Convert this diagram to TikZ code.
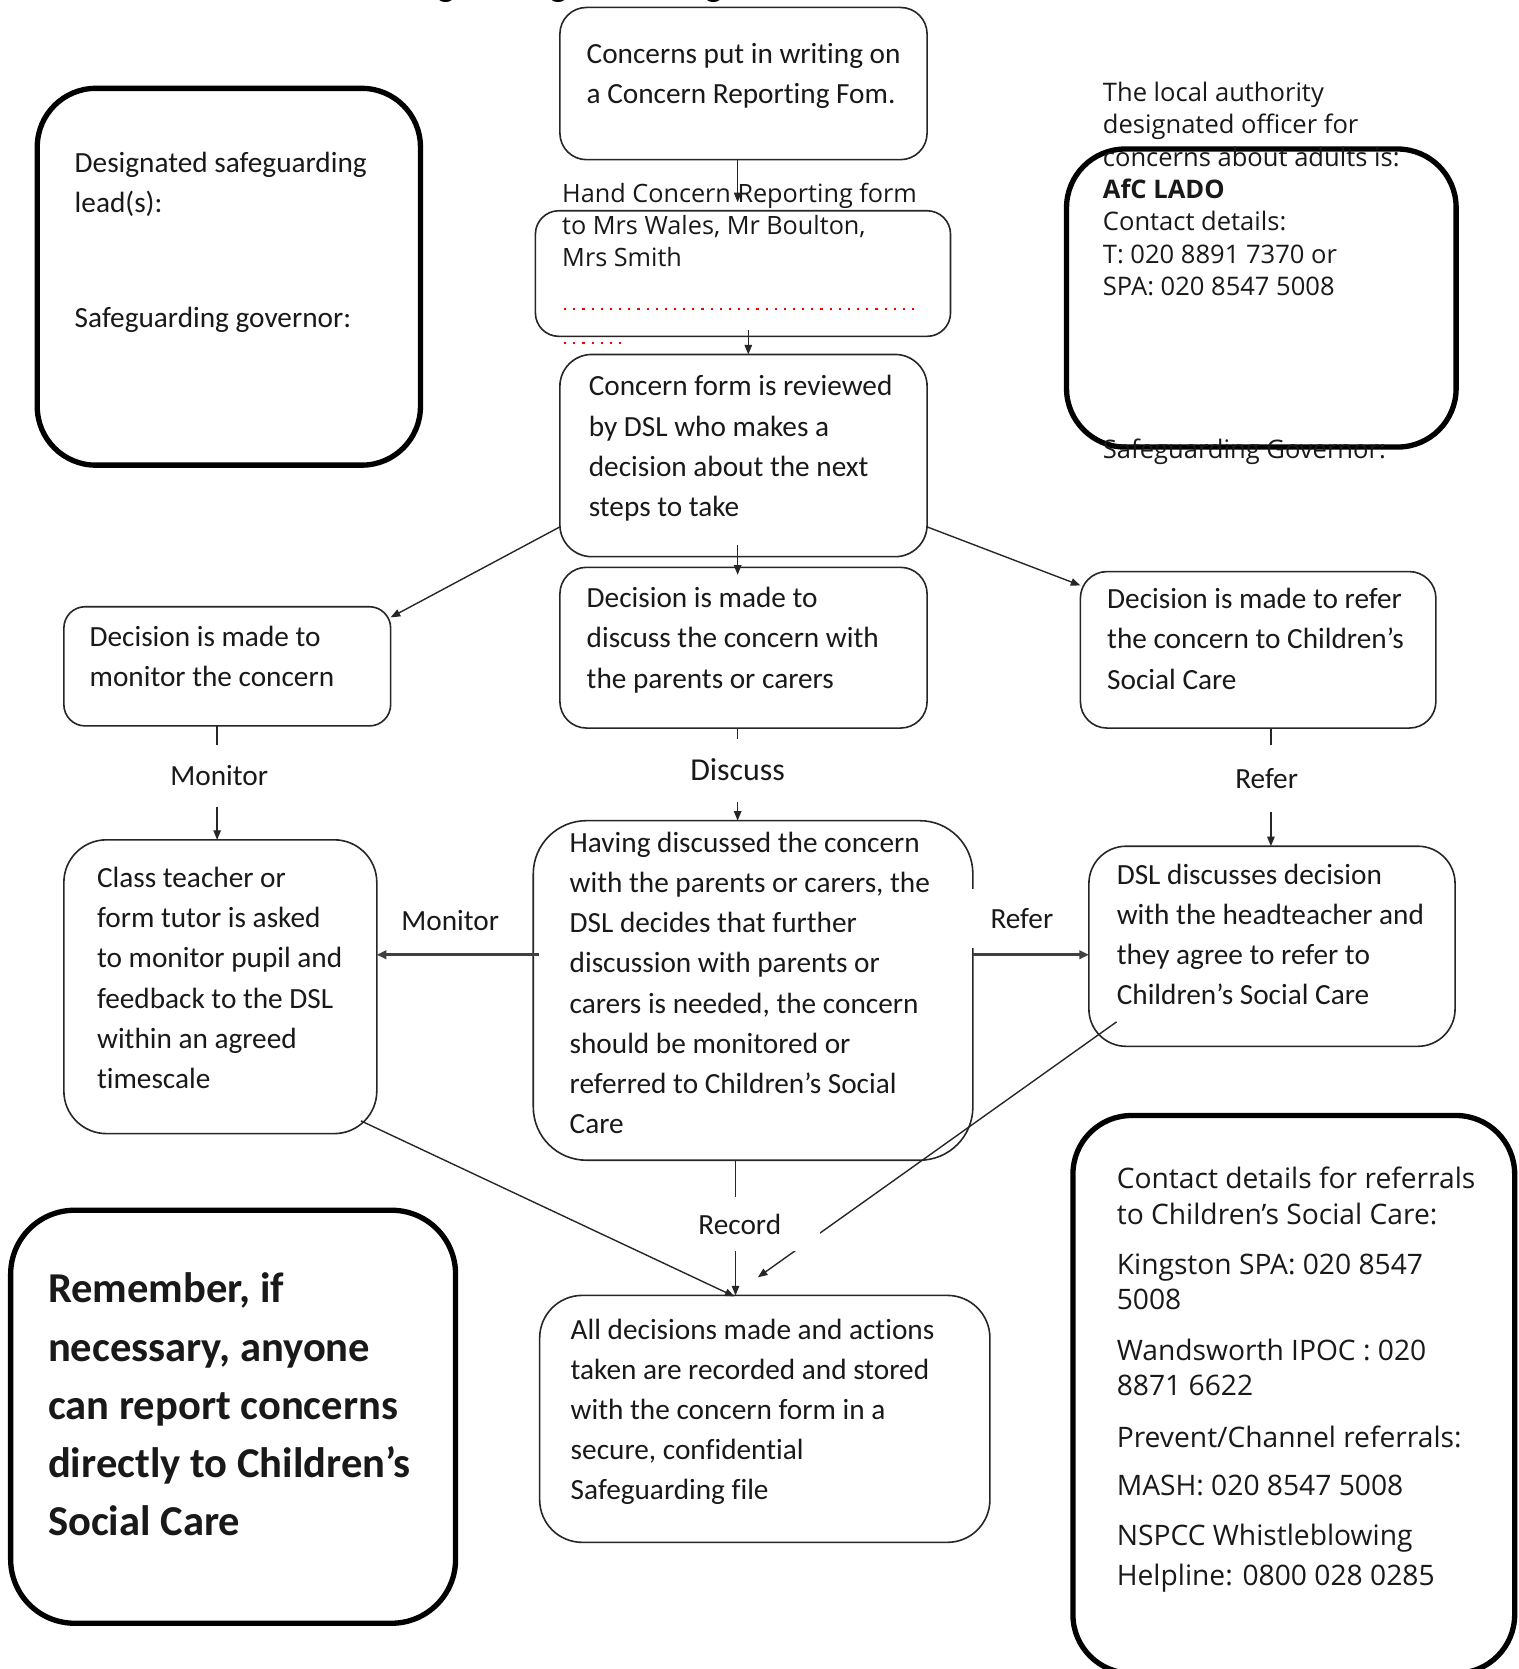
\documentclass[tikz,border=0pt]{standalone}
\usepackage{fontspec}
\setmainfont{Carlito}[Ligatures=NoCommon]
\newfontfamily\osans{Open Sans}[Ligatures=NoCommon]
\usetikzlibrary{calc,arrows.meta}
\begin{document}
\begin{tikzpicture}[x=1pt,y=-1pt,
  rbox/.style={draw=black!85, line width=1.5pt, rounded corners=#1, inner sep=0pt, outer sep=0pt, rectangle},
  tbox/.style={draw=black, line width=5pt, rounded corners=#1, inner sep=0pt, outer sep=0pt, rectangle},
  txt/.style={anchor=base west, inner sep=0pt, text=black!90, font=\fontsize{27.5}{37.7}\selectfont},
  otxt/.style={anchor=base west, inner sep=0pt, text=black!90, font=\osans\fontsize{23.7}{30.4}\selectfont},
  arr/.style={line width=1.3pt, draw=black!85, -{Triangle[length=9pt,width=7pt]}},
  harr/.style={line width=2.6pt, draw=black!75, -{Triangle[length=9pt,width=8pt]}},
  lbl/.style={inner sep=0pt, fill=white, text=black!90, font=\fontsize{27.5}{33}\selectfont},
]
\useasboundingbox (0,0) rectangle (1427,1568);
\clip (0,0) rectangle (1427,1568);
\fill[white] (0,0) rectangle (1427,1568);

% partly visible title
\node[anchor=base west, inner sep=0pt, font=\fontsize{33.4}{40}\selectfont\bfseries] (title) at (352,-3.5) {Safeguarding Recording};

% ---------- boxes ----------
\node[rbox=25pt, minimum width=345pt, minimum height=143pt] (b1) at (698.5,78.5) {};
\node[rbox=22pt, minimum width=390pt, minimum height=118pt] (b2) at (698,257) {};
\node[rbox=30pt, minimum width=345pt, minimum height=190pt] (b3) at (698.5,428) {};
\node[rbox=25pt, minimum width=345pt, minimum height=151pt] (b4) at (698.5,608.5) {};
\node[rbox=20pt, minimum width=307pt, minimum height=112pt] (b5) at (213.5,626) {};
\node[rbox=25pt, minimum width=334pt, minimum height=147pt] (b6) at (1182,610.5) {};
\node[rbox=40pt, minimum width=294pt, minimum height=276pt] (b7) at (207,927) {};
\node[rbox=50pt, minimum width=413pt, minimum height=319pt] (b8) at (707.5,930.5) {};
\node[rbox=35pt, minimum width=344pt, minimum height=188pt] (b9) at (1195,889) {};
\node[rbox=40pt, minimum width=423pt, minimum height=232pt] (b10) at (718.5,1333) {};

\node[tbox=55pt, minimum width=360pt, minimum height=354pt] (L1) at (215,260) {};
\node[tbox=55pt, minimum width=366pt, minimum height=280pt] (R1) at (1185,280) {};
\node[tbox=60pt, minimum width=418pt, minimum height=388pt] (L2) at (219,1331) {};
\node[tbox=55pt, minimum width=415pt, minimum height=524pt] (R2) at (1215.5,1310) {};

% ---------- texts ----------
\node[txt] (t1) at (551,60) {\begin{tabular}[t]{@{}l@{}}Concerns put in writing on\\a Concern Reporting Fom.\end{tabular}};
\node[otxt, font=\osans\fontsize{23.7}{30}\selectfont] (t2) at (528,190) {\begin{tabular}[t]{@{}l@{}}Hand Concern Reporting form\\to Mrs Wales, Mr Boulton,\\Mrs Smith\end{tabular}};
\draw[red, line width=2pt, dash pattern=on 2pt off 6.6pt] (530,290) -- (860,290);
\draw[red, line width=2pt, dash pattern=on 2pt off 6.6pt] (530,322) -- (590,322);
\node[txt] (t3) at (553,372) {\begin{tabular}[t]{@{}l@{}}Concern form is reviewed\\by DSL who makes a\\decision about the next\\steps to take\end{tabular}};
\node[txt] (t4) at (551,571) {\begin{tabular}[t]{@{}l@{}}Decision is made to\\discuss the concern with\\the parents or carers\end{tabular}};
\node[txt] (t5) at (84,607) {\begin{tabular}[t]{@{}l@{}}Decision is made to\\monitor the concern\end{tabular}};
\node[txt] (t6) at (1040,572) {\begin{tabular}[t]{@{}l@{}}Decision is made to refer\\the concern to Children’s\\Social Care\end{tabular}};
\node[txt] (t7) at (91,834) {\begin{tabular}[t]{@{}l@{}}Class teacher or\\form tutor is asked\\to monitor pupil and\\feedback to the DSL\\within an agreed\\timescale\end{tabular}};
\node[txt] (t8) at (535,801) {\begin{tabular}[t]{@{}l@{}}Having discussed the concern\\with the parents or carers, the\\DSL decides that further\\discussion with parents or\\carers is needed, the concern\\should be monitored or\\referred to Children’s Social\\Care\end{tabular}};
\node[txt] (t9) at (1049,831) {\begin{tabular}[t]{@{}l@{}}DSL discusses decision\\with the headteacher and\\they agree to refer to\\Children’s Social Care\end{tabular}};
\node[txt] (t10) at (536,1258) {\begin{tabular}[t]{@{}l@{}}All decisions made and actions\\taken are recorded and stored\\with the concern form in a\\secure, confidential\\Safeguarding file\end{tabular}};

\node[txt] (tL1) at (70,162) {\begin{tabular}[t]{@{}l@{}}Designated safeguarding\\lead(s):\\[70pt]Safeguarding governor:\end{tabular}};
\node[otxt, font=\osans\fontsize{24}{30.5}\selectfont] (tR1) at (1036,95) {\begin{tabular}[t]{@{}l@{}}The local authority\\designated officer for\\concerns about adults is:\\\textbf{AfC LADO}\\Contact details:\\T: 020 8891 7370 or\\SPA: 020 8547 5008\end{tabular}};
\node[otxt, font=\osans\fontsize{24}{30.5}\selectfont] (tR1b) at (1036,431) {Safeguarding Governor:};
\node[txt, font=\fontsize{40}{54.75}\selectfont\bfseries] (tL2) at (45,1224) {\begin{tabular}[t]{@{}l@{}}Remember, if\\necessary, anyone\\can report concerns\\directly to Children’s\\Social Care\end{tabular}};
\node[otxt, font=\osans\fontsize{26.5}{33}\selectfont] (tR2) at (1049,1117) {\begin{tabular}[t]{@{}l@{}}Contact details for referrals\\to Children’s Social Care:\\[14pt]Kingston SPA: 020 8547\\5008\\[15pt]Wandsworth IPOC : 020\\8871 6622\\[16pt]Prevent/Channel referrals:\\[12pt]MASH: 020 8547 5008\\[14pt]NSPCC Whistleblowing\\[5pt]Helpline: 0800 028 0285\end{tabular}};

% ---------- connectors ----------
\draw[arr] ([xshift=-5.5pt]b1.south) -- ([xshift=-5pt,yshift=8pt]b2.north);
\draw[arr] ([xshift=5pt,yshift=6pt]b2.south) -- ([xshift=4.5pt]b3.north);
\draw[arr] ([xshift=-5.5pt,yshift=11pt]b3.south) -- ([xshift=-5.5pt,yshift=-7pt]b4.north);
\draw[arr] ($(b3.west)+(0,67)$) -- ($(b5.north east)+(0,10)$);
\draw[arr] ($(b3.east)+(0,67)$) -- ($(b6.north west)+(0,13)$);
\draw[arr] ([xshift=-9.5pt]b5.south) -- ([xshift=-3pt]b7.north);
\draw[arr] ([xshift=-5.5pt]b4.south) -- ([xshift=-14.5pt]b8.north);
\draw[arr] ([xshift=12pt]b6.south) -- ([xshift=-1pt]b9.north);
\draw[harr] ($(b8.west)+(5,-33.5)$) -- ($(b7.east)+(0,-30)$);
\draw[harr] ($(b8.east)+(0,-33.5)$) -- ($(b9.west)+(0,8)$);
\draw[arr] ($(b7.south east)+(-15,-12)$) -- ($(b10.north)+(-28.5,1)$);
\draw[arr] ($(b9.south west)+(26,-23)$) -- ($(b10.north)+(-6.5,-17)$);
\draw[arr] ([xshift=-16.5pt]b8.south) -- ([xshift=-27.5pt]b10.north);

% ---------- labels ----------
\node[lbl, minimum width=110pt, minimum height=58pt] (lm1) at (206,729) {Monitor};
\node[lbl, minimum width=110pt, minimum height=59pt, font=\fontsize{30}{36}\selectfont] (ld) at (693,723.5) {Discuss};
\node[lbl, minimum width=110pt, minimum height=63pt] (lr1) at (1190,731) {Refer};
\node[lbl, fill=none] (lm2) at (423,865) {Monitor};
\node[lbl, minimum width=100pt, minimum height=56pt] (lr2) at (960,863) {Refer};
\node[lbl, minimum width=150pt, minimum height=50pt] (lrec) at (695,1150) {Record};
\end{tikzpicture}
\end{document}
